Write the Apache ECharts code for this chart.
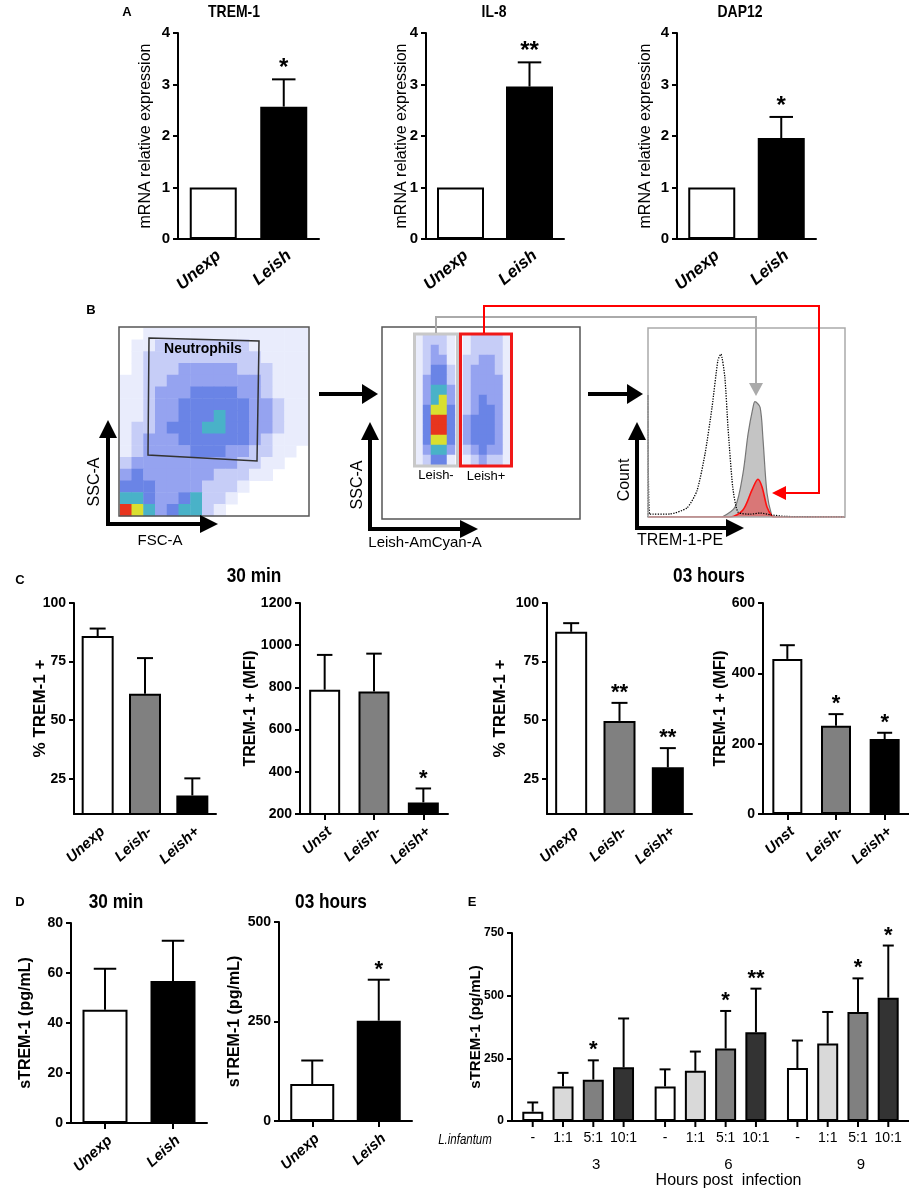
<!DOCTYPE html>
<html>
<head>
<meta charset="utf-8">
<script src="https://cdn.jsdelivr.net/npm/echarts@6/dist/echarts.min.js"></script>
<style>
html, body { margin: 0; padding: 0; background: #fff; }
#chart { width: 909px; height: 1191px; }
</style>
</head>
<body>
<div id="chart"></div>
<script>
// ---------- values ----------

// A: mRNA relative expression
var aCats = ['Unexp', 'Leish'];
var trem1Mrna = [1.0, 2.57];
var trem1MrnaErr = [1.0, 3.1];
var trem1MrnaSig = ['', '*'];
var il8Mrna = [1.0, 2.96];
var il8MrnaErr = [1.0, 3.43];
var il8MrnaSig = ['', '**'];
var dap12Mrna = [1.0, 1.96];
var dap12MrnaErr = [1.0, 2.37];
var dap12MrnaSig = ['', '*'];

// C: flow cytometry, 30 min and 3 hours
var pctCats = ['Unexp', 'Leish-', 'Leish+'];
var mfiCats = ['Unst', 'Leish-', 'Leish+'];
var pctTicks = [25, 50, 75, 100];
var pct30 = [85.9, 61.3, 17.9];
var pct30Err = [89.1, 76.5, 25.2];
var pct30Sig = ['', '', ''];
var mfi30 = [789, 781, 255];
var mfi30Err = [954, 960, 321];
var mfi30Sig = ['', '', '*'];
var pct3h = [87.7, 49.7, 29.9];
var pct3hErr = [91.4, 57.4, 38.1];
var pct3hSig = ['', '**', '**'];
var mfi3h = [441, 251, 213];
var mfi3hErr = [480, 284, 231];
var mfi3hSig = ['', '*', '*'];

// D: soluble TREM-1
var dCats = ['Unexp', 'Leish'];
var sol30 = [45.3, 56.8];
var sol30Err = [61.7, 72.9];
var sol30Sig = ['', ''];
var sol3h = [93, 252];
var sol3hErr = [152, 355];
var sol3hSig = ['', '*'];

// E: soluble TREM-1 by ratio and time
var eHours = ['3', '6', '9'];
var eRatios = ['-', '1:1', '5:1', '10:1'];
var eNone = [37, 138, 211];
var eNoneErr = [74, 206, 321];
var eNoneSig = ['', '', ''];
var e1to1 = [138, 200, 309];
var e1to1Err = [192, 277, 435];
var e1to1Sig = ['', '', ''];
var e5to1 = [165, 289, 435];
var e5to1Err = [242, 439, 569];
var e5to1Sig = ['*', '*', '*'];
var e10to1 = [214, 354, 492];
var e10to1Err = [409, 528, 700];
var e10to1Sig = ['', '**', '*'];

// B: dot plot densities (0 = empty .. 7 = densest), row 0 at the top
var fscSscDensity = [
    '0011111111111111',
    '0112222222211111',
    '0122222222221111',
    '0122233333222111',
    '1122333333332111',
    '1123334444332111',
    '1123344444433211',
    '1123344454433211',
    '1223444554433211',
    '1233344444432111',
    '1233334443322110',
    '2333333333221100',
    '3433333322211000',
    '4443333222100000',
    '5543345221000000',
    '7653455210000000'
];
var amcyanDensity = [
    '122210122221',
    '123210122221',
    '123310223321',
    '124420233321',
    '134420233331',
    '135530233331',
    '135630234331',
    '146640234431',
    '147740344431',
    '147740344431',
    '146640344431',
    '135530234331',
    '124410123221'
];
// B: TREM-1-PE histograms [channel %, count %]
var histControl = [[0, 0], [0, 64.6], [0.8, 1.5], [11, 1.6], [19.8, 4.8], [24.9, 14], [29, 33.7],
    [32.5, 58], [35.5, 83], [37, 86.2], [39, 74], [40.6, 47.6], [43, 15.9], [45.7, 2.6],
    [52, 1.5], [57, 2.1], [62, 1.2], [70, 0.3], [100, 0]];
var histLeishNeg = [[37.6, 0], [44.2, 5.3], [48.2, 23], [50.8, 44], [53.3, 58], [54.3, 61],
    [56.9, 58], [58.4, 40.7], [60.4, 12.7], [62.9, 0.5], [64, 0]];
var histLeishPos = [[0, 0], [41.6, 0], [48.2, 3.7], [52.8, 14.3], [55.8, 20], [57.9, 15.9],
    [60.4, 5.3], [62.9, 0.5], [64, 0], [100, 0]];

// ---------- styling ----------
var FONT = "'Liberation Sans', Arial, Helvetica, sans-serif";
var densityColors = ['#e9ecfc', '#c6cdf7', '#95a3f0', '#6a84e6', '#49b2c8', '#d9df30', '#e8351e'];
var eColors = ['#ffffff', '#d9d9d9', '#808080', '#333333'];

var grids = [], xAxes = [], yAxes = [], series = [], graphics = [], heatIdx = [];

function addGrid(rect, xa, ya) {
    var i = grids.length;
    grids.push(rect);
    xa.gridIndex = i;
    ya.gridIndex = i;
    xAxes.push(xa);
    yAxes.push(ya);
    return i;
}

function errorBar(stars, cap, starSize, dx, tick) {
    return function (params, api) {
        var x = api.value(0);
        var mean = api.coord([x, api.value(1)]);
        var hi = api.coord([x, api.value(2)]);
        var cx = mean[0] + dx;
        var kids = [];
        if (hi[1] < mean[1] - 0.5) {
            kids.push({type: 'line', shape: {x1: cx, y1: mean[1], x2: cx, y2: hi[1]},
                style: {stroke: '#000', lineWidth: 2}});
            kids.push({type: 'line', shape: {x1: cx - cap / 2, y1: hi[1], x2: cx + cap / 2, y2: hi[1]},
                style: {stroke: '#000', lineWidth: 2}});
        }
        if (tick) {
            var base = api.coord([x, 0]);
            kids.push({type: 'line', shape: {x1: cx, y1: base[1], x2: cx, y2: base[1] + 6},
                style: {stroke: '#000', lineWidth: 2}});
        }
        var s = stars[params.dataIndex];
        if (s) {
            kids.push({type: 'text', x: cx, y: hi[1] + 1,
                style: {text: s, align: 'center', verticalAlign: 'bottom', fill: '#000',
                    font: 'bold ' + starSize + 'px ' + FONT}});
        }
        return {type: 'group', children: kids};
    };
}

function valueAxis(o) {
    var ya = {
        type: 'value', min: o.min, max: o.max,
        name: o.yName, nameLocation: 'middle', nameRotate: 90, nameGap: o.nameGap,
        nameMoveOverlap: false,
        nameTextStyle: {color: '#000', fontFamily: FONT, fontWeight: o.nameWeight || 'bold',
            fontSize: o.nameSize || 16},
        axisLine: {show: true, lineStyle: {color: '#000', width: 2}},
        axisTick: {show: true, length: 5, lineStyle: {color: '#000', width: 2}},
        axisLabel: {color: '#000', fontFamily: FONT, fontWeight: 'bold',
            fontSize: o.tickSize || 14, margin: 8,
            formatter: function (v) { return String(v); }},
        splitLine: {show: false}
    };
    if (o.ticks) {
        ya.axisTick.customValues = o.ticks;
        ya.axisLabel.customValues = o.ticks;
    } else {
        ya.interval = o.interval;
    }
    return ya;
}

function barChart(o) {
    var xa = {
        type: 'category', data: o.cats,
        axisLine: {lineStyle: {color: '#000', width: 2}},
        axisTick: {show: !!o.xTicks, alignWithLabel: true, length: 6, lineStyle: {color: '#000', width: 2}},
        axisLabel: {interval: 0, rotate: o.rotate || 42, margin: o.labelMargin || 10, color: '#000',
            verticalAlign: 'top',
            fontFamily: FONT, fontStyle: 'italic', fontWeight: 'bold', fontSize: o.labelSize || 15}
    };
    var gi = addGrid({left: o.left, top: o.top, width: o.width, height: o.height}, xa, valueAxis(o));
    series.push({
        type: 'bar', xAxisIndex: gi, yAxisIndex: gi, barWidth: o.barWidth, silent: true,
        itemStyle: {borderColor: '#000', borderWidth: 2},
        data: o.values.map(function (v, i) { return {value: v, itemStyle: {color: o.colors[i]}}; })
    });
    series.push({
        type: 'custom', xAxisIndex: gi, yAxisIndex: gi, silent: true, z: 5,
        renderItem: errorBar(o.stars, o.barWidth / 2, o.starSize || 24, 0, false),
        data: o.values.map(function (v, i) { return [i, v, o.errors[i]]; })
    });
}

function densityPlot(rect, rows) {
    var nc = rows[0].length, nr = rows.length;
    var xs = [], ys = [], data = [];
    for (var c = 0; c < nc; c++) xs.push(c);
    for (var r = 0; r < nr; r++) {
        ys.push(r);
        for (var k = 0; k < nc; k++) {
            var v = +rows[r].charAt(k);
            if (v > 0) data.push([k, r, v]);
        }
    }
    var gi = addGrid(rect,
        {type: 'category', data: xs, show: false},
        {type: 'category', data: ys, show: false, inverse: true});
    heatIdx.push(series.length);
    series.push({type: 'heatmap', xAxisIndex: gi, yAxisIndex: gi, data: data, silent: true,
        progressive: 0});
}

function txt(x, y, s, font, extra) {
    var el = {type: 'text', x: x, y: y, z: 100, silent: true,
        style: {text: s, font: font, fill: '#000', align: 'center', verticalAlign: 'middle'}};
    if (extra) for (var k in extra) el[k] = extra[k];
    return el;
}

function poly(points, stroke, width) {
    return {type: 'polyline', z: 100, silent: true, shape: {points: points},
        style: {stroke: stroke, lineWidth: width, fill: null}};
}

function head(points, fill) {
    return {type: 'polygon', z: 100, silent: true, shape: {points: points}, style: {fill: fill}};
}

function box(x, y, w, h, stroke, width) {
    return {type: 'rect', z: 100, silent: true, shape: {x: x, y: y, width: w, height: h},
        style: {stroke: stroke, lineWidth: width, fill: 'transparent'}};
}

// ---------- panel A ----------
var aCommon = {cats: aCats, colors: ['#fff', '#000'], min: 0, max: 4, interval: 1, top: 33, height: 206,
    yName: 'mRNA relative expression', nameWeight: 'normal', nameSize: 16, barWidth: 47,
    rotate: 40, labelSize: 17, labelMargin: 8, tickSize: 15};
function withA(extra) {
    var o = {};
    for (var k in aCommon) o[k] = aCommon[k];
    for (var j in extra) o[j] = extra[j];
    return o;
}
barChart(withA({left: 178, width: 141, values: trem1Mrna, errors: trem1MrnaErr, stars: trem1MrnaSig, nameGap: 24}));
barChart(withA({left: 426, width: 138, values: il8Mrna, errors: il8MrnaErr, stars: il8MrnaSig, nameGap: 16}));
barChart(withA({left: 677, width: 139, values: dap12Mrna, errors: dap12MrnaErr, stars: dap12MrnaSig, nameGap: 23}));

// ---------- panel C ----------
var pctColors = ['#fff', '#808080', '#000'];
barChart({left: 74, top: 603, width: 142, height: 211, cats: pctCats, values: pct30, errors: pct30Err,
    stars: pct30Sig, colors: pctColors, min: 10, max: 100, ticks: pctTicks, yName: '% TREM-1 +',
    nameGap: 25, nameSize: 17, barWidth: 32, starSize: 22});
barChart({left: 300, top: 603, width: 148, height: 211, cats: mfiCats, values: mfi30, errors: mfi30Err,
    stars: mfi30Sig, colors: pctColors, min: 200, max: 1200, interval: 200, yName: 'TREM-1 + (MFI)',
    nameGap: 41, barWidth: 31, starSize: 22, xTicks: true});
barChart({left: 547, top: 603, width: 145, height: 211, cats: pctCats, values: pct3h, errors: pct3hErr,
    stars: pct3hSig, colors: pctColors, min: 10, max: 100, ticks: pctTicks, yName: '% TREM-1 +',
    nameGap: 38, nameSize: 17, barWidth: 32, starSize: 22});
barChart({left: 763, top: 603, width: 146, height: 211, cats: mfiCats, values: mfi3h, errors: mfi3hErr,
    stars: mfi3hSig, colors: pctColors, min: 0, max: 600, interval: 200, yName: 'TREM-1 + (MFI)',
    nameGap: 34, barWidth: 30, starSize: 22, xTicks: true});

// ---------- panel D ----------
barChart({left: 71, top: 923, width: 136, height: 200, cats: dCats, values: sol30, errors: sol30Err,
    stars: sol30Sig, colors: ['#fff', '#000'], min: 0, max: 80, interval: 20, yName: 'sTREM-1 (pg/mL)',
    nameGap: 37, barWidth: 45, starSize: 22, xTicks: true});
barChart({left: 279, top: 922, width: 133, height: 199, cats: dCats, values: sol3h, errors: sol3hErr,
    stars: sol3hSig, colors: ['#fff', '#000'], min: 0, max: 500, interval: 250, yName: 'sTREM-1 (pg/mL)',
    nameGap: 36, barWidth: 44, starSize: 22, xTicks: true});

// ---------- panel E ----------
(function () {
    var xa = {
        type: 'category', data: eHours,
        axisLine: {lineStyle: {color: '#000', width: 2}},
        axisTick: {show: false},
        axisLabel: {margin: 36, color: '#000', fontFamily: FONT, fontSize: 15, padding: [0, 0, 0, 36]},
        name: 'Hours post  infection', nameLocation: 'middle', nameGap: 52,
        nameTextStyle: {color: '#000', fontFamily: FONT, fontSize: 16, padding: [0, 0, 0, 36]}
    };
    var ya = valueAxis({min: 0, max: 750, interval: 250, yName: 'sTREM-1 (pg/mL)', nameGap: 29,
        nameSize: 15, tickSize: 12});
    var gi = addGrid({left: 512, top: 933, width: 397, height: 188}, xa, ya);
    var means = [eNone, e1to1, e5to1, e10to1];
    var errs = [eNoneErr, e1to1Err, e5to1Err, e10to1Err];
    var sigs = [eNoneSig, e1to1Sig, e5to1Sig, e10to1Sig];
    var barW = 21, pitch = 30.3;
    means.forEach(function (vals, k) {
        series.push({
            type: 'bar', name: eRatios[k], xAxisIndex: gi, yAxisIndex: gi, barWidth: barW, barGap: '44%',
            silent: true, data: vals,
            itemStyle: {color: eColors[k], borderColor: '#000', borderWidth: 2},
            label: {show: true, position: 'bottom', distance: 10, formatter: eRatios[k], color: '#000',
                fontFamily: FONT, fontSize: 14}
        });
    });
    means.forEach(function (vals, k) {
        series.push({
            type: 'custom', xAxisIndex: gi, yAxisIndex: gi, silent: true, z: 5,
            renderItem: errorBar(sigs[k], 11, 22, (k - 1.5) * pitch, true),
            data: vals.map(function (v, i) { return [i, v, errs[k][i]]; })
        });
    });
})();

// ---------- panel B ----------
densityPlot({left: 120, top: 328, width: 188, height: 188}, fscSscDensity);
densityPlot({left: 415, top: 335, width: 96, height: 130}, amcyanDensity);

(function () {
    var gi = addGrid({left: 648, top: 328, width: 197, height: 189},
        {type: 'value', min: 0, max: 100, show: false},
        {type: 'value', min: 0, max: 100, show: false});
    series.push({type: 'line', xAxisIndex: gi, yAxisIndex: gi, data: histLeishNeg, symbol: 'none',
        silent: true, smooth: 0.3, lineStyle: {color: '#777', width: 1.2},
        areaStyle: {color: '#c4c4c4', opacity: 1}});
    series.push({type: 'line', xAxisIndex: gi, yAxisIndex: gi, data: histLeishPos, symbol: 'none',
        silent: true, smooth: 0.3, lineStyle: {color: '#ff1010', width: 1.6},
        areaStyle: {color: '#dc6f6f', opacity: 0.9}});
    series.push({type: 'line', xAxisIndex: gi, yAxisIndex: gi, data: histControl, symbol: 'none',
        silent: true, smooth: 0.2, lineStyle: {color: '#000', width: 1.3, type: 'dotted'}});
})();

// ---------- annotations ----------
var narrow = {scaleX: 0.82};
var TITLE = 'bold 17px ' + FONT;
var BIG = 'bold 21px ' + FONT;
graphics.push(
    txt(127, 12, 'A', 'bold 13px ' + FONT),
    txt(234, 12, 'TREM-1', TITLE, narrow),
    txt(494, 12, 'IL-8', TITLE, narrow),
    txt(740, 12, 'DAP12', TITLE, narrow),
    txt(91, 310, 'B', 'bold 13px ' + FONT),
    txt(20, 580, 'C', 'bold 13px ' + FONT),
    txt(254, 576, '30 min', BIG, narrow),
    txt(709, 576, '03 hours', BIG, narrow),
    txt(20, 902, 'D', 'bold 13px ' + FONT),
    txt(116, 902, '30 min', BIG, narrow),
    txt(331, 902, '03 hours', BIG, narrow),
    txt(472, 902, 'E', 'bold 13px ' + FONT),
    txt(465, 1140, 'L.infantum', 'italic 14px ' + FONT, narrow)
);

// B: FSC/SSC plot
graphics.push(
    box(119, 327, 190, 189, '#555', 1.5),
    {type: 'polygon', z: 100, silent: true, shape: {points: [[149, 338], [259, 341], [257, 461], [148, 455]]},
        style: {stroke: '#333', lineWidth: 1.5, fill: 'transparent'}},
    txt(203, 349, 'Neutrophils', 'bold 14px ' + FONT),
    poly([[108, 524], [108, 436]], '#000', 4),
    head([[108, 420], [99, 438], [117, 438]], '#000'),
    poly([[106, 524], [202, 524]], '#000', 4),
    head([[218, 524], [200, 515], [200, 533]], '#000'),
    txt(95, 482, 'SSC-A', '16px ' + FONT, {rotation: Math.PI / 2}),
    txt(160, 541, 'FSC-A', '15px ' + FONT),
    poly([[319, 394], [365, 394]], '#000', 4),
    head([[378, 394], [362, 384], [362, 404]], '#000')
);

// B: AmCyan gate plot
graphics.push(
    box(382, 327, 198, 192, '#555', 1.5),
    box(414.5, 334, 43, 132, '#c8c8c8', 3),
    box(460.5, 334, 51, 132, '#f01818', 3),
    txt(436, 475, 'Leish-', '13px ' + FONT),
    txt(486, 476, 'Leish+', '13px ' + FONT),
    poly([[370, 529], [370, 438]], '#000', 4),
    head([[370, 422], [361, 440], [379, 440]], '#000'),
    poly([[368, 529], [462, 529]], '#000', 4),
    head([[478, 529], [460, 520], [460, 538]], '#000'),
    txt(358, 485, 'SSC-A', '16px ' + FONT, {rotation: Math.PI / 2}),
    txt(425, 543, 'Leish-AmCyan-A', '15px ' + FONT),
    poly([[588, 394], [630, 394]], '#000', 4),
    head([[643, 394], [627, 384], [627, 404]], '#000')
);

// B: histogram frame, axes and gate connectors
graphics.push(
    box(648, 328, 197, 189, '#aaa', 1.5),
    poly([[637, 528], [637, 438]], '#000', 4),
    head([[637, 422], [628, 440], [646, 440]], '#000'),
    poly([[635, 528], [728, 528]], '#000', 4),
    head([[744, 528], [726, 519], [726, 537]], '#000'),
    txt(625, 480, 'Count', '16px ' + FONT, {rotation: Math.PI / 2}),
    txt(680, 541, 'TREM-1-PE', '16px ' + FONT),
    poly([[436, 333], [436, 317], [756, 317], [756, 385]], '#aaa', 2),
    head([[756, 396], [749, 383], [763, 383]], '#aaa'),
    poly([[484, 333], [484, 306], [819, 306], [819, 493], [785, 493]], '#ff0000', 2),
    head([[772, 493], [786, 486], [786, 500]], '#ff0000')
);

var chart = echarts.init(document.getElementById('chart'), null, {renderer: 'canvas'});
chart.setOption({
    animation: false,
    backgroundColor: '#fff',
    grid: grids,
    xAxis: xAxes,
    yAxis: yAxes,
    visualMap: [{
        type: 'piecewise', show: false, seriesIndex: heatIdx, dimension: 2,
        pieces: densityColors.map(function (c, i) { return {value: i + 1, color: c}; })
    }],
    series: series,
    graphic: {elements: graphics}
});
</script>
</body>
</html>
